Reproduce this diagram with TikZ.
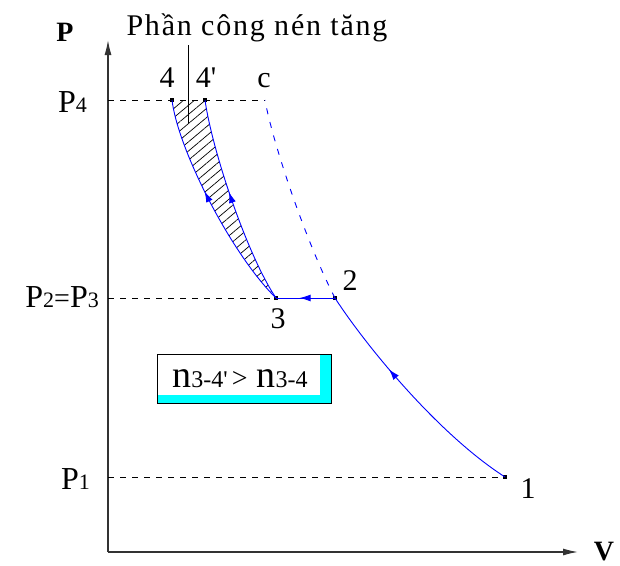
\documentclass[tikz,border=0pt]{standalone}
\usepackage{fontspec}
\setmainfont{Liberation Serif}
\usetikzlibrary{arrows.meta,decorations.markings,patterns.meta}
\definecolor{cyanbox}{RGB}{0,255,255}
\newcommand\smf[1]{{\fontsize{22}{22}\selectfont #1}}
\newcommand\boxsub[1]{{\fontsize{24}{24}\selectfont #1}}
\newcommand\bign{{\fontsize{38}{38}\selectfont n}}
\tikzset{
  lbl/.style={font=\fontsize{30}{30}\selectfont, inner sep=0pt},
  plbl/.style={font=\fontsize{32}{32}\selectfont, inner sep=0pt, anchor=base east},
  axlbl/.style={font=\bfseries\fontsize{28}{28}\selectfont, inner sep=0pt, anchor=base},
  axis/.style={line width=1.3pt, draw=black!80, -{Latex[length=15pt,width=7pt]}},
  guide/.style={line width=0.8pt, dash pattern=on 6pt off 6pt},
  proc/.style={blue, line width=0.9pt},
  pdash/.style={blue, line width=0.9pt, dash pattern=on 6pt off 8pt},
  dot/.style={rectangle, fill=black, inner sep=0pt, minimum size=4pt},
  midarrow/.style={postaction={decorate}, decoration={markings,
     mark=at position #1 with {\arrow{Latex[length=11pt,width=7pt]}}}},
}
\begin{document}
\begin{tikzpicture}[x=1pt,y=-1pt]
\useasboundingbox (0,0) rectangle (620,565);

% axes
\coordinate (O) at (108,552);
\coordinate (Ptop) at (108,40);
\coordinate (Vend) at (578,552);
\draw[axis] (O) -- (Ptop);
\draw[axis] (O) -- (Vend);
\node[axlbl] (Plab) at (65,41) {P};
\node[axlbl] (Vlab) at (604,560) {V};

% level coordinates
\coordinate (a4) at (108,100);
\coordinate (a23) at (108,298);
\coordinate (a1) at (108,477);
\coordinate (c) at (265,100);

% hatched area
\fill[pattern={Lines[angle=40,distance=7pt,line width=0.7pt]}, pattern color=black]
  (276,298) .. controls (232,255) and (178,150) .. (172,100) -- (205,100)
  .. controls (212,150) and (247,255) .. (276,298) -- cycle;

% dashed guide lines
\draw[guide] (a4) -- (c);
\draw[guide] (a23) -- (276,298);
\draw[guide] (a1) -- (505,477);

% state points
\node[dot] (n4) at (172,100) {};
\node[dot] (n4p) at (205,100) {};
\node[dot] (n3) at (276,298) {};
\node[dot] (n2) at (335,298) {};
\node[dot] (n1) at (505,477) {};

% processes
\draw[proc, midarrow=0.64] (n1.center) .. controls (435,432) and (362,340) .. (n2.center);
\draw[pdash] (n2.center) .. controls (305,240) and (272,140) .. (c);
\draw[proc, midarrow=0.6] (n2.center) -- (n3.center);
\draw[proc, midarrow=0.57] (n3.center) .. controls (232,255) and (178,150) .. (n4.center);
\draw[proc, midarrow=0.55] (n3.center) .. controls (247,255) and (212,150) .. (n4p.center);

% leader line and caption
\coordinate (lt) at (188,45);
\coordinate (lb) at (188,123);
\draw[line width=0.8pt] (lt) -- (lb);
\node[lbl, anchor=base] (cap) at (257,35) {\addfontfeature{LetterSpace=6}Phần công nén tăng};

% point labels
\node[lbl, anchor=base] (l4) at (167,87) {4};
\node[lbl, anchor=base] (l4p) at (206,87) {4\textquotesingle};
\node[lbl, anchor=base] (lc) at (264,87) {c};
\node[lbl, anchor=base] (l2) at (350,290) {2};
\node[lbl, anchor=base] (l3) at (278,328) {3};
\node[lbl, anchor=base] (l1) at (528,498) {1};

% pressure labels
\node[plbl] (P4) at (87,112) {P\smf{4}};
\node[plbl] (P23) at (99,307) {P\smf{2}{\fontsize{28}{28}\selectfont =}P\smf{3}};
\node[plbl] (P1) at (90,489) {P\smf{1}};

% box
\fill[cyanbox] (157,354) rectangle (331,403);
\fill[white] (157,354) rectangle (320,395);
\draw[line width=1pt] (157,354) rectangle (331,403);
\node[inner sep=0pt, anchor=base] (rel) at (240,387)
  {\bign\boxsub{3-4\textquotesingle}\hspace{4pt}{\fontsize{28}{28}\selectfont >}\hspace{9pt}\bign\boxsub{3-4}};
\end{tikzpicture}
\end{document}
